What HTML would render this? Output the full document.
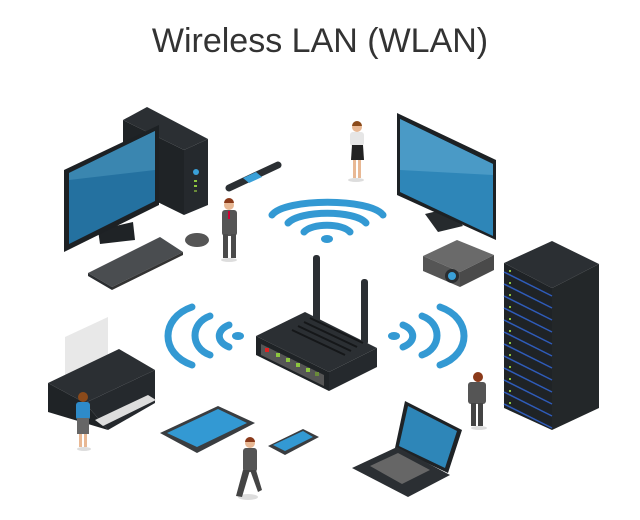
<!DOCTYPE html>
<html><head><meta charset="utf-8"><style>
html,body{margin:0;padding:0;background:#fff;}
svg{display:block}
</style></head><body>
<svg width="640" height="520" viewBox="0 0 640 520" xmlns="http://www.w3.org/2000/svg">
<text x="320" y="52" text-anchor="middle" font-family="Liberation Sans, sans-serif" font-size="34" fill="#333">Wireless LAN (WLAN)</text>

<!-- Tower -->
<polygon points="123,120 147,107 208,139 184,150" fill="#2b2f33"/>
<polygon points="123,120 184,150 184,215 123,185" fill="#1f2326"/>
<polygon points="184,150 208,139 208,205 184,215" fill="#25292d"/>
<circle cx="196" cy="172" r="3" fill="#3aa0d8"/>
<rect x="194" y="180" width="3" height="2" fill="#8dc63f"/><rect x="194" y="185" width="3" height="2" fill="#8dc63f"/><rect x="194" y="190" width="3" height="2" fill="#6a8a3a"/>
<!-- Left monitor -->
<polygon points="98,230 133,222 135,240 100,244" fill="#1f2326"/>
<polygon points="64,170 159,125 159,205 64,252" fill="#1d2124"/>
<polygon points="69,173 155,131 155,201 69,244" fill="#2471a0"/>
<polygon points="69,173 155,131 155,170 69,180" fill="#3a86b0"/>
<!-- keyboard -->
<polygon points="88,273 160,237 183,252 112,287" fill="#4a4d50"/>
<polygon points="88,273 112,287 112,290 88,276" fill="#2a2d30"/>
<polygon points="112,287 183,252 183,255 112,290" fill="#333"/>
<!-- mouse -->
<ellipse cx="197" cy="240" rx="12" ry="7" fill="#555"/>
<!-- watch -->
<path d="M229,188 L278,165" stroke="#2b2f33" stroke-width="7" stroke-linecap="round"/>
<polygon points="243,178 256,172 262,177 249,183" fill="#3aa0d8"/>

<!-- man top-left -->
<ellipse cx="229" cy="260" rx="8" ry="2" fill="#ddd"/>
<rect x="222" y="210" width="15" height="26" rx="3" fill="#555"/>
<rect x="223" y="234" width="5" height="24" fill="#4a4a4a"/><rect x="231" y="234" width="5" height="24" fill="#4a4a4a"/>
<circle cx="229" cy="205" r="5" fill="#e8b894"/><path d="M224,203 a5,5 0 0 1 10,0z" fill="#8b3a1a"/>
<rect x="228" y="211" width="2" height="8" fill="#c03"/>

<!-- woman top -->
<ellipse cx="356" cy="180" rx="8" ry="2" fill="#ddd"/>
<circle cx="357" cy="127" r="5" fill="#e8b894"/><path d="M352,126 a5,5 0 0 1 10,0z" fill="#8b4a1a"/>
<rect x="350" y="132" width="14" height="14" rx="3" fill="#e6e6e6"/>
<polygon points="352,145 363,145 364,160 351,160" fill="#222"/>
<rect x="353" y="160" width="3" height="18" fill="#e8b894"/><rect x="358" y="160" width="3" height="18" fill="#e8b894"/>

<!-- right monitor -->
<polygon points="425,214 450,208 463,226 438,232" fill="#262a2d"/>
<polygon points="397,113 496,160 496,240 397,195" fill="#1d2124"/>
<polygon points="400,119 493,164 493,236 400,192" fill="#2e86b8"/>
<polygon points="400,119 493,164 493,175 400,170" fill="#4a9ac6"/>

<!-- projector -->
<polygon points="423,256 457,240 494,255 460,272" fill="#6a6a6a"/>
<polygon points="423,256 460,272 460,287 423,271" fill="#555"/>
<polygon points="460,272 494,255 494,270 460,287" fill="#4a4a4a"/>
<circle cx="452" cy="276" r="7" fill="#2a2d30"/><circle cx="452" cy="276" r="4" fill="#3aa0d8"/>

<!-- server -->
<polygon points="504,263 552,241 599,264 552,288" fill="#2b2f33"/>
<polygon points="504,263 552,288 552,430 504,408" fill="#1f2326"/>
<polygon points="552,288 599,264 599,408 552,430" fill="#232729"/>
<g stroke="#2f5bb8" stroke-width="1.5">
<line x1="504" y1="272" x2="552" y2="296"/><line x1="504" y1="284" x2="552" y2="308"/><line x1="504" y1="296" x2="552" y2="320"/><line x1="504" y1="308" x2="552" y2="332"/><line x1="504" y1="320" x2="552" y2="344"/><line x1="504" y1="332" x2="552" y2="356"/><line x1="504" y1="344" x2="552" y2="368"/><line x1="504" y1="356" x2="552" y2="380"/><line x1="504" y1="368" x2="552" y2="392"/><line x1="504" y1="380" x2="552" y2="404"/><line x1="504" y1="392" x2="552" y2="416"/><line x1="504" y1="404" x2="552" y2="428"/>
</g>
<g fill="#8dc63f">
<rect x="509" y="270" width="2" height="2"/><rect x="509" y="282" width="2" height="2"/><rect x="509" y="294" width="2" height="2"/><rect x="509" y="306" width="2" height="2"/><rect x="509" y="318" width="2" height="2"/><rect x="509" y="330" width="2" height="2"/><rect x="509" y="342" width="2" height="2"/><rect x="509" y="354" width="2" height="2"/><rect x="509" y="366" width="2" height="2"/><rect x="509" y="378" width="2" height="2"/><rect x="509" y="390" width="2" height="2"/><rect x="509" y="402" width="2" height="2"/>
</g>

<!-- wifi arcs -->
<g fill="none" stroke="#3399d3" stroke-width="7" stroke-linecap="round">
<path d="M440,307 C472,318 472,354 440,365"/>
<path d="M422,316 C442,323 442,348 422,355"/>
<path d="M403,325 C416,330 416,342 403,347"/>
<path d="M192,307 C160,318 160,354 192,365"/>
<path d="M210,316 C190,323 190,348 210,355"/>
<path d="M229,325 C216,330 216,342 229,347"/>
<path d="M272,215 C285,198 370,198 383,215"/>
<path d="M288,223 C300,210 355,210 366,223"/>
<path d="M304,232 C312,223 342,223 350,232"/>
</g>
<ellipse cx="394" cy="336" rx="6" ry="4" fill="#3399d3"/>
<ellipse cx="238" cy="336" rx="6" ry="4" fill="#3399d3"/>
<ellipse cx="327" cy="239" rx="6" ry="4" fill="#3399d3"/>

<!-- router -->
<rect x="313" y="255" width="7" height="70" rx="3" fill="#2b2f33"/>
<rect x="361" y="279" width="7" height="66" rx="3" fill="#2b2f33"/>
<polygon points="256,336 305,312 377,348 329,372" fill="#2b2f33"/>
<polygon points="256,336 329,372 329,391 256,355" fill="#1f2326"/>
<polygon points="329,372 377,348 377,367 329,391" fill="#25292d"/>
<g stroke="#151719" stroke-width="2"><line x1="292" y1="330" x2="345" y2="355"/><line x1="298" y1="326" x2="351" y2="351"/><line x1="304" y1="322" x2="357" y2="347"/><line x1="310" y1="318" x2="363" y2="343"/></g>
<polygon points="261,344 324,375 324,386 261,355" fill="#555"/>
<rect x="265" y="348" width="4" height="4" fill="#d22"/>
<g fill="#8dc63f"><rect x="276" y="353" width="4" height="4"/><rect x="286" y="358" width="4" height="4"/><rect x="296" y="363" width="4" height="4"/><rect x="306" y="368" width="4" height="4"/><rect x="315" y="372" width="4" height="4" fill="#6a8a3a"/></g>

<!-- printer -->
<polygon points="65,337 108,317 108,357 65,378" fill="#e8e8e8"/>
<polygon points="48,383 119,349 155,370 85,403" fill="#2b2f33"/>
<polygon points="48,383 85,403 108,430 48,412" fill="#1f2326"/>
<polygon points="85,403 155,370 155,403 108,430" fill="#25292d"/>
<polygon points="95,420 148,395 156,400 103,426" fill="#ddd"/>

<!-- woman printer -->
<ellipse cx="84" cy="449" rx="7" ry="2" fill="#ddd"/>
<circle cx="83" cy="397" r="5" fill="#8b4a1a"/>
<rect x="76" y="402" width="14" height="18" rx="3" fill="#2e8bc9"/>
<rect x="77" y="418" width="12" height="16" fill="#666"/>
<rect x="79" y="434" width="3" height="13" fill="#e8b894"/><rect x="84" y="434" width="3" height="13" fill="#e8b894"/>

<!-- tablet -->
<polygon points="160,433 218,406 255,423 197,453" fill="#3a3d40"/>
<polygon points="167,433 218,409 247,423 197,447" fill="#3399d3"/>
<!-- phone -->
<polygon points="268,446 303,429 319,437 285,455" fill="#3a3d40"/>
<polygon points="273,445 303,431 313,437 285,451" fill="#3399d3"/>

<!-- walking man -->
<ellipse cx="248" cy="497" rx="10" ry="3" fill="#ddd"/>
<circle cx="250" cy="443" r="5" fill="#e8b894"/><path d="M245,442 a5,5 0 0 1 10,0z" fill="#8b3a1a"/>
<rect x="243" y="448" width="14" height="24" rx="3" fill="#555"/>
<polygon points="243,470 250,470 242,497 236,496" fill="#444"/>
<polygon points="250,470 256,470 262,490 258,492" fill="#444"/>

<!-- laptop -->
<polygon points="395,448 405,401 462,430 448,473" fill="#1f2326"/>
<polygon points="399,446 408,406 457,431 445,468" fill="#2e86b8"/>
<polygon points="352,468 397,447 450,475 408,497" fill="#2b2f33"/>
<polygon points="370,466 398,453 430,470 402,484" fill="#666"/>

<!-- man right -->
<ellipse cx="479" cy="428" rx="8" ry="2" fill="#ddd"/>
<circle cx="478" cy="377" r="5" fill="#8b3a1a"/>
<rect x="468" y="382" width="18" height="22" rx="3" fill="#555"/>
<rect x="471" y="403" width="5" height="23" fill="#444"/><rect x="478" y="403" width="5" height="23" fill="#444"/>
</svg>
</body></html>
